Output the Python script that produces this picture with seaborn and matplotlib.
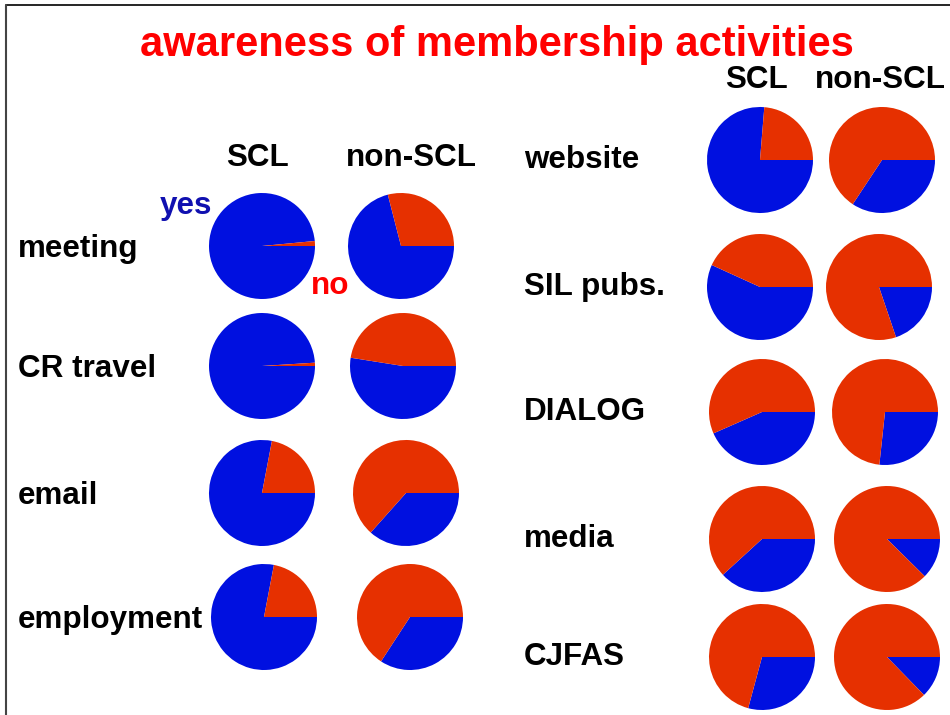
import matplotlib
matplotlib.use("Agg")
import matplotlib.pyplot as plt
import seaborn as sns
from matplotlib.lines import Line2D

# share of "yes" answers (blue), the rest is "no" (red)
left_items = ["meeting", "CR travel", "email", "employment"]
left_scl_yes = [0.985, 0.99, 0.78, 0.78]
left_non_yes = [0.71, 0.525, 0.366, 0.342]

right_items = ["website", "SIL pubs.", "DIALOG", "media", "CJFAS"]
right_scl_yes = [0.763, 0.568, 0.434, 0.382, 0.292]
right_non_yes = [0.343, 0.198, 0.267, 0.124, 0.127]

groups = ["SCL", "non-SCL"]

sns.set_style("white")
plt.rcParams["font.family"] = ["Liberation Sans", "DejaVu Sans"]
plt.rcParams["text.color"] = "black"

blue = "#0010e0"
red = "#e63000"

W, H = 950, 715
fig = plt.figure(figsize=(W / 100, H / 100), dpi=100)
R = 53
FS = 22.6


def px_text(x, y, s, **kw):
    fig.text(x / W, 1 - y / H, s, **kw)


def pie_at(cx, cy, yes):
    ax = fig.add_axes([(cx - R) / W, 1 - (cy + R) / H, 2 * R / W, 2 * R / H])
    ax.pie([yes, 1 - yes], colors=[blue, red], startangle=0,
           counterclock=False, radius=1.0,
           wedgeprops={"linewidth": 0, "edgecolor": "none"})
    ax.set_xlim(-1, 1)
    ax.set_ylim(-1, 1)
    ax.set_aspect("equal")
    ax.axis("off")


# layout of pie centres (pixels)
left_scl_x = [262, 262, 262, 264]
left_non_x = [401, 403, 406, 410]
left_y = [246, 366, 493, 617]
right_scl_x = [760, 760, 762, 762, 762]
right_non_x = [882, 879, 885, 887, 887]
right_y = [160, 287, 412, 539, 657]

for i, name in enumerate(left_items):
    pie_at(left_scl_x[i], left_y[i], left_scl_yes[i])
    pie_at(left_non_x[i], left_y[i], left_non_yes[i])
    px_text(18, left_y[i] + 3, name, fontsize=FS, fontweight="bold",
            va="center", ha="left")

for i, name in enumerate(right_items):
    pie_at(right_scl_x[i], right_y[i], right_scl_yes[i])
    pie_at(right_non_x[i], right_y[i], right_non_yes[i])
    px_text(524, right_y[i], name, fontsize=FS, fontweight="bold",
            va="center", ha="left")

# headers
px_text(258, 158, groups[0], fontsize=FS, fontweight="bold", ha="center", va="center")
px_text(411, 158, groups[1], fontsize=FS, fontweight="bold", ha="center", va="center")
px_text(757, 80, groups[0], fontsize=FS, fontweight="bold", ha="center", va="center")
px_text(880, 80, groups[1], fontsize=FS, fontweight="bold", ha="center", va="center")

px_text(186, 206, "yes", fontsize=FS, fontweight="bold", color="#1010b0",
        ha="center", va="center")
px_text(330, 286, "no", fontsize=FS, fontweight="bold", color="#ff0000",
        ha="center", va="center")

px_text(497, 45, "awareness of membership activities", fontsize=30,
        fontweight="bold", color="#ff0000", ha="center", va="center")

# slide frame
fig.add_artist(Line2D([6 / W, 1], [1 - 5 / H, 1 - 5 / H], color="black", lw=1.2))
fig.add_artist(Line2D([6 / W, 6 / W], [1 - 5 / H, 0], color="#444444", lw=1.5))

fig.savefig("out.png", dpi=100)
